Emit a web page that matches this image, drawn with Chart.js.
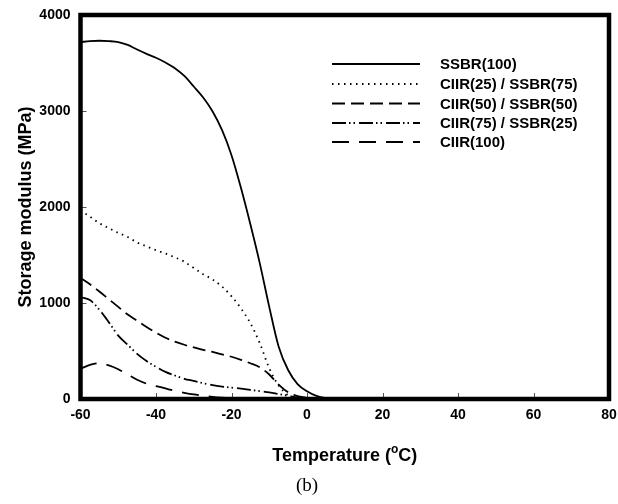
<!DOCTYPE html>
<html>
<head>
<meta charset="utf-8">
<script src="https://cdn.jsdelivr.net/npm/chart.js@4.4.1/dist/chart.umd.min.js"></script>
<style>
  html, body { margin: 0; padding: 0; background: #fff; }
  #wrap { width: 618px; height: 504px; position: relative; }
</style>
</head>
<body>
<div id="wrap"><canvas id="c" width="618" height="504"></canvas></div>
<script>
// Temperature (°C)
const temperatures = [-60,-57.5,-55,-52.5,-50,-47.5,-45,-42.5,-40,-37.5,-35,-32.5,-30,-27.5,-25,-22.5,-20,-17.5,-15,-12.5,-10,-7.5,-5,-2.5,0,2.5,5,7.5,10,15,20,30,40,50,60,70,80];

// Storage modulus (MPa)
const ssbr100 = [3718,3728,3732,3728,3718,3688,3640,3595,3555,3505,3445,3365,3255,3140,2995,2800,2540,2200,1820,1413,960,545,302,155,80,32,10,4,1,0,0,0,0,0,0,0,0];
const ciir25ssbr75 = [1965,1900,1830,1780,1730,1688,1630,1590,1550,1515,1475,1430,1365,1300,1245,1170,1070,945,790,580,320,140,40,12,5,2,0,0,0,0,0,0,0,0,0,0,0];
const ciir50ssbr50 = [1260,1195,1120,1040,960,880,815,750,690,638,598,565,538,512,490,465,440,408,372,330,255,150,70,30,12,5,2,0,0,0,0,0,0,0,0,0,0];
const ciir75ssbr25 = [1060,1030,930,800,660,565,470,395,335,282,245,210,188,165,145,130,118,108,95,83,70,52,33,15,6,2,0,0,0,0,0,0,0,0,0,0,0];
const ciir100 = [315,355,372,350,310,255,200,160,135,110,85,65,48,35,22,14,9,5,3,2,1,0,0,0,0,0,0,0,0,0,0,0,0,0,0,0,0];

const seriesNames = ['SSBR(100)', 'CIIR(25) / SSBR(75)', 'CIIR(50) / SSBR(50)', 'CIIR(75) / SSBR(25)', 'CIIR(100)'];
const seriesValues = [ssbr100, ciir25ssbr75, ciir50ssbr50, ciir75ssbr25, ciir100];
const dashes = [[], [1.5, 4.5], [13, 6], [14, 3, 1.5, 3, 1.5, 4], [17, 10]];

const xTicks = [-60, -40, -20, 0, 20, 40, 60, 80];
const yTicks = [0, 1000, 2000, 3000, 4000];

const datasets = seriesNames.map((name, i) => ({
  label: name,
  data: temperatures.map((t, k) => ({ x: t, y: seriesValues[i][k] })),
  borderColor: '#000',
  borderWidth: 1.8,
  borderDash: dashes[i],
  pointRadius: 0,
  fill: false,
  cubicInterpolationMode: 'monotone',
  tension: 0.4
}));

const FONT = '"Liberation Sans", Arial, sans-serif';

const decor = {
  id: 'decor',
  afterDatasetsDraw(chart) {
    const ctx = chart.ctx;
    const a = chart.chartArea;
    const xs = chart.scales.x, ys = chart.scales.y;
    ctx.save();
    // inner ticks
    ctx.strokeStyle = '#555';
    ctx.lineWidth = 1;
    xTicks.slice(1, -1).forEach(v => {
      const px = Math.round(xs.getPixelForValue(v)) + 0.5;
      ctx.beginPath(); ctx.moveTo(px, a.bottom); ctx.lineTo(px, a.bottom - 6); ctx.stroke();
    });
    yTicks.slice(1, -1).forEach(v => {
      const py = Math.round(ys.getPixelForValue(v)) + 0.5;
      ctx.beginPath(); ctx.moveTo(a.left, py); ctx.lineTo(a.left + 6, py); ctx.stroke();
    });
    // frame
    ctx.strokeStyle = '#000';
    ctx.lineWidth = 4.5;
    ctx.setLineDash([]);
    ctx.strokeRect(a.left, a.top, a.right - a.left, a.bottom - a.top);

    // legend
    const rows = [64, 84, 103.5, 123, 142];
    ctx.font = 'bold 15px ' + FONT;
    ctx.fillStyle = '#000';
    ctx.textBaseline = 'middle';
    ctx.textAlign = 'left';
    seriesNames.forEach((name, i) => {
      ctx.save();
      ctx.strokeStyle = '#000';
      ctx.lineWidth = 2;
      ctx.setLineDash(dashes[i]);
      ctx.beginPath(); ctx.moveTo(332, rows[i]); ctx.lineTo(420, rows[i]); ctx.stroke();
      ctx.restore();
      ctx.fillText(name, 440, rows[i] + 1);
    });

    // x title with superscript
    const cx = (a.left + a.right) / 2;
    const ty = 455;
    const p1 = 'Temperature (', p3 = 'C)';
    ctx.font = 'bold 18px ' + FONT;
    const w1 = ctx.measureText(p1).width, w3 = ctx.measureText(p3).width;
    ctx.font = 'bold 12px ' + FONT;
    const w2 = ctx.measureText('o').width;
    const x0 = cx - (w1 + w2 + w3) / 2;
    ctx.textBaseline = 'alphabetic';
    ctx.font = 'bold 18px ' + FONT;
    ctx.fillText(p1, x0, ty + 6);
    ctx.font = 'bold 12px ' + FONT;
    ctx.fillText('o', x0 + w1, ty - 2);
    ctx.font = 'bold 18px ' + FONT;
    ctx.fillText(p3, x0 + w1 + w2, ty + 6);

    // y title
    ctx.save();
    ctx.translate(26, (a.top + a.bottom) / 2);
    ctx.rotate(-Math.PI / 2);
    ctx.textAlign = 'center';
    ctx.textBaseline = 'middle';
    ctx.font = 'bold 18px ' + FONT;
    ctx.fillText('Storage modulus (MPa)', 0, 0);
    ctx.restore();

    // caption
    ctx.textAlign = 'center';
    ctx.textBaseline = 'middle';
    ctx.font = '19px "Liberation Serif", "Times New Roman", serif';
    ctx.fillText('(b)', 307, 486);
    ctx.restore();
  }
};

new Chart(document.getElementById('c'), {
  type: 'line',
  data: { datasets },
  options: {
    responsive: false,
    animation: false,
    events: [],
    layout: { padding: { top: 15, right: 9, left: 0, bottom: 0 } },
    plugins: { legend: { display: false }, tooltip: { enabled: false } },
    scales: {
      x: {
        type: 'linear', min: -60, max: 80,
        afterBuildTicks: s => { s.ticks = xTicks.map(v => ({ value: v })); },
        afterFit: s => { s.height = 105; s.paddingLeft = 0; s.paddingRight = 0; },
        grid: { display: false, drawTicks: false },
        border: { display: false },
        ticks: { color: '#000', padding: 8, maxRotation: 0, callback: v => String(v), font: { family: FONT, size: 14, weight: 'bold' } }
      },
      y: {
        type: 'linear', min: 0, max: 4000,
        afterBuildTicks: s => { s.ticks = yTicks.map(v => ({ value: v })); },
        afterFit: s => { s.width = 80.5; s.paddingTop = 0; s.paddingBottom = 0; },
        grid: { display: false, drawTicks: false },
        border: { display: false },
        ticks: { color: '#000', padding: 10, callback: v => String(v), font: { family: FONT, size: 14, weight: 'bold' } }
      }
    }
  },
  plugins: [decor]
});
</script>
</body>
</html>
